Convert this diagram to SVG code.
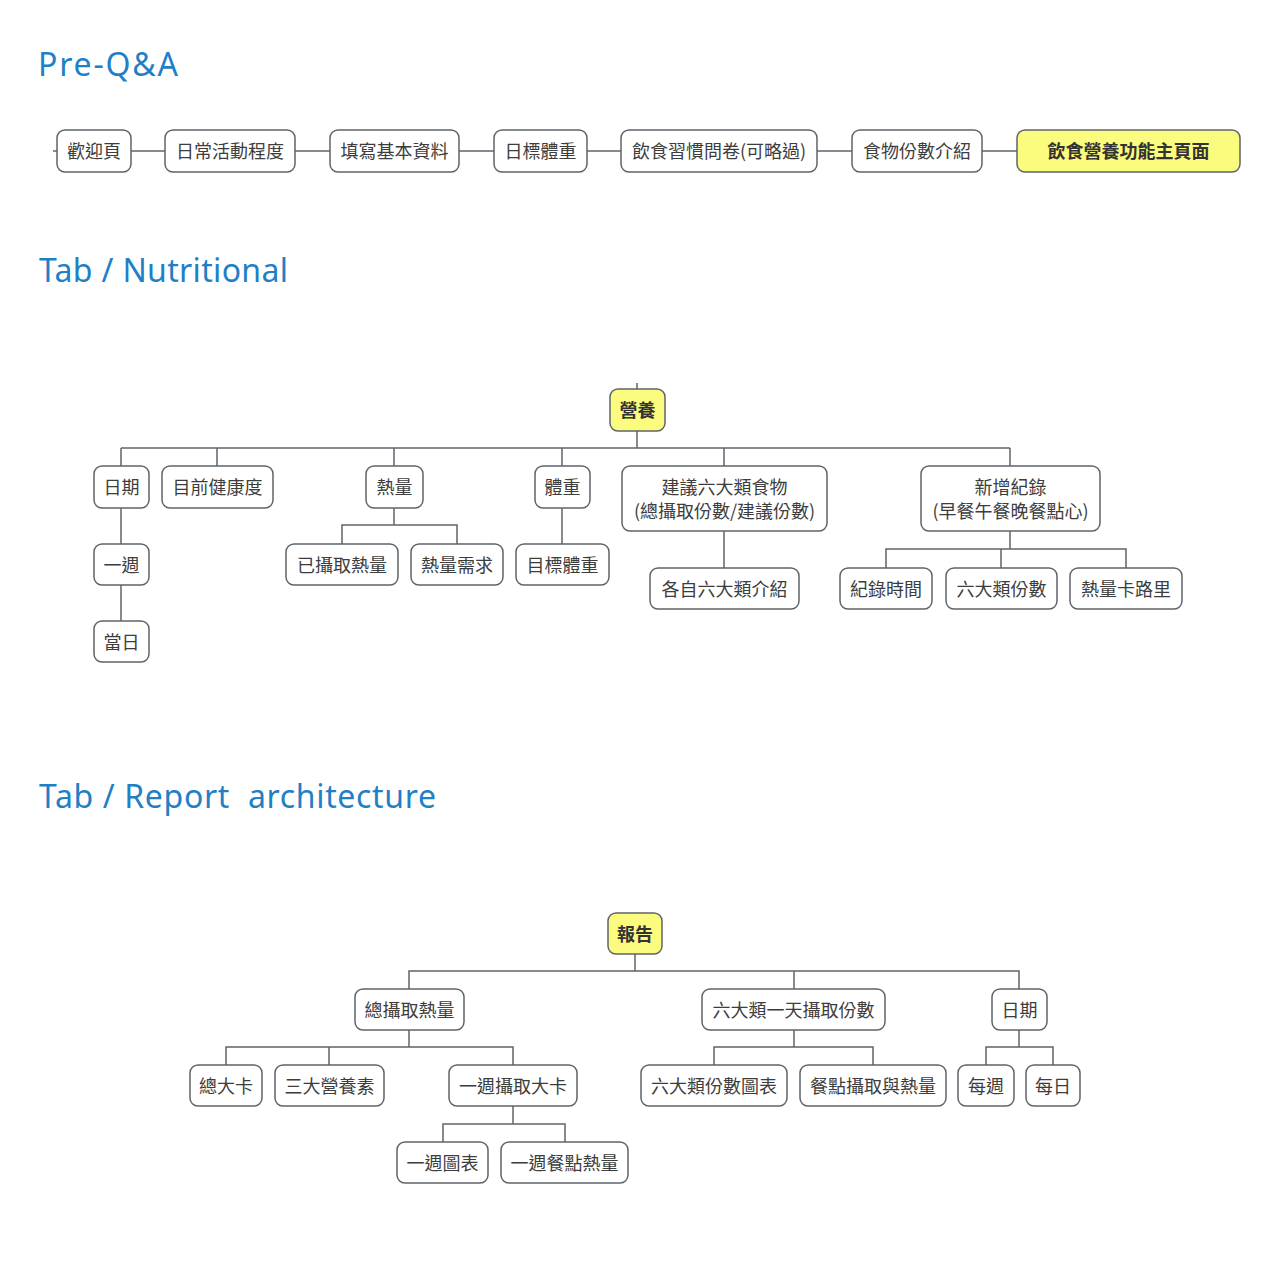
<svg xmlns="http://www.w3.org/2000/svg" width="1280" height="1279" viewBox="0 0 1280 1279">
<style>
.bg{fill:#ffffff}
.h{font-family:"Noto Sans","Liberation Sans",sans-serif;fill:#1f80c6;font-size:32px}
.n rect{fill:#ffffff;stroke:#5f646b;stroke-width:1.5}
.n text{font-family:"Noto Sans CJK TC","Noto Sans",sans-serif;font-size:18px;fill:#3d3d3d;text-anchor:middle;dominant-baseline:central;transform:translateY(-1px)}
.r rect{fill:#fbfb7d}
.r text{font-weight:bold;fill:#333333}
.c line,.c polyline{stroke:#5f646b;stroke-width:1.5;fill:none}
</style>
<rect class="bg" x="0" y="0" width="1280" height="1279"/>
<text class="h" x="38" y="76" textLength="140">Pre-Q&amp;A</text>
<text class="h" x="39" y="282" textLength="249">Tab / Nutritional</text>
<text class="h" x="39" y="808" textLength="397" xml:space="preserve">Tab / Report  architecture</text>

<g class="c" id="connectors">
  <!-- top row -->
  <line x1="53" y1="151" x2="57" y2="151"/>
  <line x1="131" y1="151" x2="165" y2="151"/>
  <line x1="295" y1="151" x2="330" y2="151"/>
  <line x1="459" y1="151" x2="494" y2="151"/>
  <line x1="587" y1="151" x2="621" y2="151"/>
  <line x1="817" y1="151" x2="852" y2="151"/>
  <line x1="982" y1="151" x2="1017" y2="151"/>
  <!-- nutrition -->
  <line x1="637" y1="383" x2="637" y2="389"/>
  <line x1="637" y1="431" x2="637" y2="448"/>
  <line x1="121" y1="448" x2="1010" y2="448"/>
  <line x1="121" y1="448" x2="121" y2="466"/>
  <line x1="217" y1="448" x2="217" y2="466"/>
  <line x1="394" y1="448" x2="394" y2="466"/>
  <line x1="562" y1="448" x2="562" y2="466"/>
  <line x1="724" y1="448" x2="724" y2="466"/>
  <line x1="1010" y1="448" x2="1010" y2="466"/>
  <line x1="121" y1="508" x2="121" y2="544"/>
  <line x1="121" y1="585" x2="121" y2="621"/>
  <line x1="394" y1="508" x2="394" y2="525"/>
  <polyline points="342,544 342,525 457,525 457,544"/>
  <line x1="562" y1="508" x2="562" y2="544"/>
  <line x1="724" y1="531" x2="724" y2="568"/>
  <line x1="1010" y1="531" x2="1010" y2="549"/>
  <polyline points="886,568 886,549 1126,549 1126,568"/>
  <line x1="1001" y1="549" x2="1001" y2="568"/>
  <!-- report -->
  <line x1="635" y1="954" x2="635" y2="971"/>
  <polyline points="409,989 409,971 1019,971 1019,989"/>
  <line x1="794" y1="971" x2="794" y2="989"/>
  <line x1="409" y1="1030" x2="409" y2="1047"/>
  <polyline points="226,1065 226,1047 513,1047 513,1065"/>
  <line x1="329" y1="1047" x2="329" y2="1065"/>
  <line x1="513" y1="1106" x2="513" y2="1124"/>
  <polyline points="443,1142 443,1124 565,1124 565,1142"/>
  <line x1="794" y1="1030" x2="794" y2="1047"/>
  <polyline points="714,1065 714,1047 873,1047 873,1065"/>
  <line x1="1019" y1="1030" x2="1019" y2="1047"/>
  <polyline points="986,1065 986,1047 1053,1047 1053,1065"/>
</g>

<!-- top row nodes -->
<g class="n" id="welcome"><rect x="57" y="130" width="74" height="42" rx="8"/><text x="94" y="151">歡迎頁</text></g>
<g class="n" id="activity"><rect x="165" y="130" width="130" height="42" rx="8"/><text x="230" y="151">日常活動程度</text></g>
<g class="n" id="basic"><rect x="330" y="130" width="129" height="42" rx="8"/><text x="394.5" y="151">填寫基本資料</text></g>
<g class="n" id="goalweight"><rect x="494" y="130" width="93" height="42" rx="8"/><text x="540.5" y="151">日標體重</text></g>
<g class="n" id="habits"><rect x="621" y="130" width="196" height="42" rx="8"/><text x="719" y="151">飲食習慣問卷(可略過)</text></g>
<g class="n" id="portion"><rect x="852" y="130" width="130" height="42" rx="8"/><text x="917" y="151">食物份數介紹</text></g>
<g class="n r" id="mainpage"><rect x="1017" y="130" width="223" height="42" rx="8"/><text x="1128.5" y="151">飲食營養功能主頁面</text></g>

<!-- nutrition tree -->
<g class="n r" id="nutrition"><rect x="610" y="389" width="55" height="42" rx="8"/><text x="637.5" y="410">營養</text></g>
<g class="n" id="n-date"><rect x="94" y="466" width="55" height="42" rx="8"/><text x="121.5" y="487">日期</text></g>
<g class="n" id="n-health"><rect x="162" y="466" width="111" height="42" rx="8"/><text x="217.5" y="487">目前健康度</text></g>
<g class="n" id="n-cal"><rect x="366" y="466" width="57" height="42" rx="8"/><text x="394.5" y="487">熱量</text></g>
<g class="n" id="n-weight"><rect x="535" y="466" width="55" height="42" rx="8"/><text x="562.5" y="487">體重</text></g>
<g class="n" id="n-suggest"><rect x="622" y="466" width="205" height="65" rx="8"/><text x="724.5" y="487">建議六大類食物</text><text x="724.5" y="511">(總攝取份數/建議份數)</text></g>
<g class="n" id="n-add"><rect x="921" y="466" width="179" height="65" rx="8"/><text x="1010.5" y="487">新增紀錄</text><text x="1010.5" y="511">(早餐午餐晚餐點心)</text></g>
<g class="n" id="n-week"><rect x="94" y="544" width="55" height="41" rx="8"/><text x="121.5" y="564.5">一週</text></g>
<g class="n" id="n-day"><rect x="94" y="621" width="55" height="41" rx="8"/><text x="121.5" y="641.5">當日</text></g>
<g class="n" id="n-intake"><rect x="286" y="544" width="112" height="41" rx="8"/><text x="342" y="564.5">已攝取熱量</text></g>
<g class="n" id="n-need"><rect x="411" y="544" width="92" height="41" rx="8"/><text x="457" y="564.5">熱量需求</text></g>
<g class="n" id="n-target"><rect x="516" y="544" width="93" height="41" rx="8"/><text x="562.5" y="564.5">目標體重</text></g>
<g class="n" id="n-intro"><rect x="650" y="568" width="149" height="41" rx="8"/><text x="724.5" y="588.5">各自六大類介紹</text></g>
<g class="n" id="n-time"><rect x="840" y="568" width="92" height="41" rx="8"/><text x="886" y="588.5">紀錄時間</text></g>
<g class="n" id="n-six"><rect x="946" y="568" width="111" height="41" rx="8"/><text x="1001.5" y="588.5">六大類份數</text></g>
<g class="n" id="n-kcal"><rect x="1070" y="568" width="112" height="41" rx="8"/><text x="1126" y="588.5">熱量卡路里</text></g>

<!-- report tree -->
<g class="n r" id="report"><rect x="608" y="913" width="54" height="41" rx="8"/><text x="635" y="933.5">報告</text></g>
<g class="n" id="r-total"><rect x="355" y="989" width="109" height="41" rx="8"/><text x="409.5" y="1009.5">總攝取熱量</text></g>
<g class="n" id="r-six"><rect x="702" y="989" width="183" height="41" rx="8"/><text x="793.5" y="1009.5">六大類一天攝取份數</text></g>
<g class="n" id="r-date"><rect x="992" y="989" width="55" height="41" rx="8"/><text x="1019.5" y="1009.5">日期</text></g>
<g class="n" id="r-kcal"><rect x="190" y="1065" width="72" height="41" rx="8"/><text x="226" y="1085.5">總大卡</text></g>
<g class="n" id="r-macro"><rect x="275" y="1065" width="109" height="41" rx="8"/><text x="329.5" y="1085.5">三大營養素</text></g>
<g class="n" id="r-weekkcal"><rect x="449" y="1065" width="128" height="41" rx="8"/><text x="513" y="1085.5">一週攝取大卡</text></g>
<g class="n" id="r-sixchart"><rect x="641" y="1065" width="146" height="41" rx="8"/><text x="714" y="1085.5">六大類份數圖表</text></g>
<g class="n" id="r-meal"><rect x="800" y="1065" width="146" height="41" rx="8"/><text x="873" y="1085.5">餐點攝取與熱量</text></g>
<g class="n" id="r-weekly"><rect x="958" y="1065" width="56" height="41" rx="8"/><text x="986" y="1085.5">每週</text></g>
<g class="n" id="r-daily"><rect x="1026" y="1065" width="54" height="41" rx="8"/><text x="1053" y="1085.5">每日</text></g>
<g class="n" id="r-weekchart"><rect x="397" y="1142" width="91" height="41" rx="8"/><text x="442.5" y="1162.5">一週圖表</text></g>
<g class="n" id="r-weekmeal"><rect x="501" y="1142" width="127" height="41" rx="8"/><text x="564.5" y="1162.5">一週餐點熱量</text></g>
</svg>
